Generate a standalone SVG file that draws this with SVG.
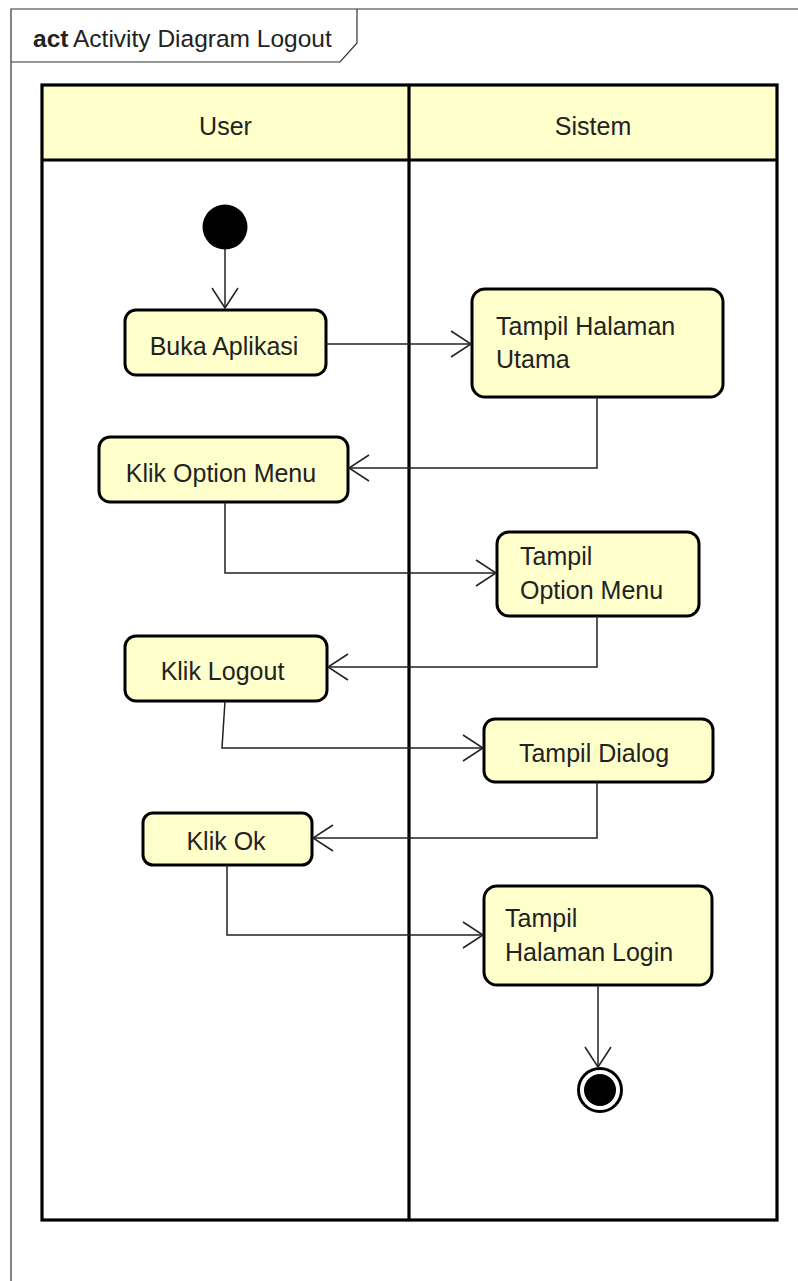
<svg xmlns="http://www.w3.org/2000/svg" width="798" height="1281" viewBox="0 0 798 1281">
<defs>
<style>
text{font-family:"Liberation Sans",Arial,sans-serif;font-size:25px;fill:#222;}
.mid{text-anchor:middle;}
.node{fill:#FFFFCC;stroke:#000;stroke-width:3;}
.lane{fill:none;stroke:#000;stroke-width:3.2;}
.hdr{fill:#FFFFCC;stroke:none;}
.conn path{fill:none;stroke:#222;stroke-width:1.5;marker-end:url(#arr);}
.frame{fill:none;stroke:#333;stroke-width:1.2;}
</style>
<marker id="arr" markerUnits="userSpaceOnUse" markerWidth="30" markerHeight="30" refX="0" refY="0" orient="auto" viewBox="-25 -15 30 30" overflow="visible">
<path d="M-20,-13 L0,0 L-20,13" fill="none" stroke="#222" stroke-width="1.5"/>
</marker>
</defs>
<rect width="798" height="1281" fill="#fff"/>
<g id="frame">
<path class="frame" d="M11,1281 L11,9 L798,9"/>
<path class="frame" d="M11,62 L340,62 L357,43 L357,9"/>
<text x="33" y="47" style="font-size:24.5px"><tspan font-weight="bold">act</tspan><tspan x="73">Activity Diagram Logout</tspan></text>
</g>
<g id="swimlanes">
<rect class="hdr" x="42" y="85" width="735" height="75"/>
<rect class="lane" x="42" y="85" width="735" height="1135"/>
<line class="lane" x1="42" y1="160" x2="777" y2="160"/>
<line class="lane" x1="409" y1="85" x2="409" y2="1220"/>
<text class="mid" x="225.5" y="135">User</text>
<text class="mid" x="593" y="135">Sistem</text>
</g>
<g id="start">
<circle cx="225" cy="227" r="22.5" fill="#000"/>
</g>
<g id="buka-aplikasi">
<rect class="node" x="125" y="310" width="201" height="65" rx="11"/>
<text class="mid" x="224" y="355">Buka Aplikasi</text>
</g>
<g id="tampil-halaman-utama">
<rect class="node" x="472" y="289" width="251" height="108" rx="13"/>
<text x="496" y="335">Tampil Halaman</text>
<text x="496" y="368">Utama</text>
</g>
<g id="klik-option-menu">
<rect class="node" x="99" y="437" width="249" height="65" rx="11"/>
<text class="mid" x="221" y="482">Klik Option Menu</text>
</g>
<g id="tampil-option-menu">
<rect class="node" x="497" y="532" width="202" height="84" rx="12"/>
<text x="520" y="565">Tampil</text>
<text x="520" y="599">Option Menu</text>
</g>
<g id="klik-logout">
<rect class="node" x="125" y="636" width="202" height="65" rx="11"/>
<text class="mid" x="222.5" y="680">Klik Logout</text>
</g>
<g id="tampil-dialog">
<rect class="node" x="484" y="719" width="229" height="63" rx="11"/>
<text class="mid" x="594" y="762">Tampil Dialog</text>
</g>
<g id="klik-ok">
<rect class="node" x="143" y="813" width="169" height="52" rx="10"/>
<text class="mid" x="226" y="850">Klik Ok</text>
</g>
<g id="tampil-halaman-login">
<rect class="node" x="484" y="886" width="228" height="99" rx="13"/>
<text x="505" y="927">Tampil</text>
<text x="505" y="961">Halaman Login</text>
</g>
<g id="end">
<circle cx="600" cy="1090" r="21.5" fill="#fff" stroke="#000" stroke-width="3"/>
<circle cx="600" cy="1090" r="16" fill="#000"/>
</g>
<g id="connectors" class="conn">
<path d="M225,249 L225,308"/>
<path d="M326,344 L471,344"/>
<path d="M597,397 L597,468 L349,468"/>
<path d="M225,502 L225,573 L496,573"/>
<path d="M597,616 L597,667 L328,667"/>
<path d="M225,701 L222,748 L483,748"/>
<path d="M597,782 L597,838 L313,838"/>
<path d="M227,865 L227,935 L483,935"/>
<path d="M598,985 L598,1067"/>
</g>
</svg>
